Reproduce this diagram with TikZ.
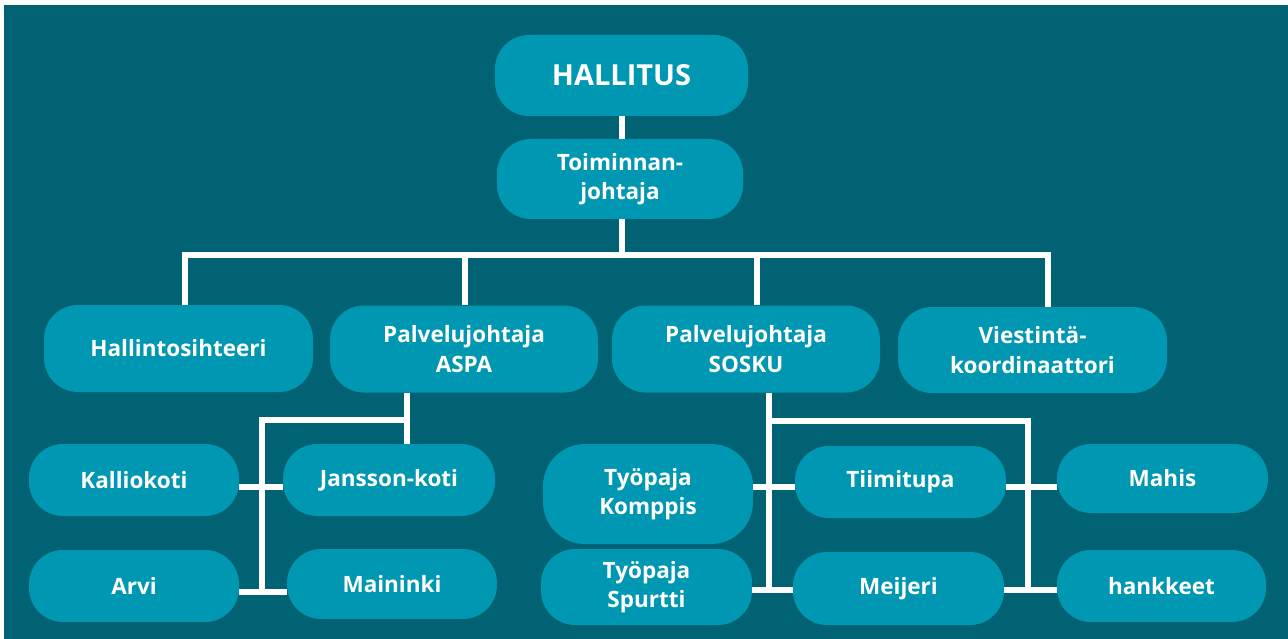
\documentclass[tikz,border=0pt]{standalone}
\usepackage{fontspec}
\setmainfont{Open Sans}
\definecolor{bgc}{RGB}{0,98,114}
\definecolor{boxc}{RGB}{0,151,178}
\begin{document}
\begin{tikzpicture}[x=1pt,y=-1pt,
  box/.style={fill=boxc, rounded corners=34pt, text=white, align=center, inner sep=0pt,
    font=\bfseries\fontsize{22.5}{29.5}\selectfont},
  link/.style={draw=white, line width=6pt, line join=miter}]
\useasboundingbox (0,0) rectangle (1288,639);
\fill[white] (0,0) rectangle (1288,639);
\fill[bgc] (4,5) rectangle (1288,639);

\node[box, minimum width=253pt, minimum height=81pt, font=\bfseries\fontsize{29}{34}\selectfont] (hal) at (621.5,75.5) {HALLITUS};
\node[box, minimum width=246pt, minimum height=80pt] (toi) at (620,179) {Toiminnan-\\johtaja};

\node[box, minimum width=269pt, minimum height=87pt] (hs) at (178.5,348.5) {Hallintosihteeri};
\node[box, minimum width=268pt, minimum height=87pt] (aspa) at (464,349) {Palvelujohtaja\\ASPA};
\node[box, minimum width=268pt, minimum height=87pt] (sosku) at (746,349) {Palvelujohtaja\\SOSKU};
\node[box, minimum width=269pt, minimum height=86pt] (vie) at (1032.5,350) {Viestintä-\\koordinaattori};

\node[box, minimum width=210pt, minimum height=72pt] (kal) at (134,480) {Kalliokoti};
\node[box, minimum width=212pt, minimum height=72pt] (jan) at (389,480) {Jansson-koti};
\node[box, minimum width=210pt, minimum height=72pt] (arvi) at (134,586) {Arvi};
\node[box, minimum width=210pt, minimum height=70pt] (mai) at (392,584) {Maininki};

\node[box, minimum width=210pt, minimum height=100pt, rounded corners=42pt] (kom) at (648,494) {Työpaja\\Komppis};
\node[box, minimum width=211pt, minimum height=76pt] (spu) at (646.5,587) {Työpaja\\Spurtti};
\node[box, minimum width=211pt, minimum height=72pt] (tii) at (900.5,482) {Tiimitupa};
\node[box, minimum width=211pt, minimum height=73pt] (mei) at (898.5,588.5) {Meijeri};
\node[box, minimum width=211pt, minimum height=69pt] (mah) at (1162.5,478.5) {Mahis};
\node[box, minimum width=209pt, minimum height=72pt] (han) at (1161.5,586) {hankkeet};

% top
\coordinate (bus) at (622,255);
\coordinate (d1) at (185,255);
\coordinate (d2) at (465,255);
\coordinate (d3) at (757,255);
\coordinate (d4) at (1048,255);
\draw[link] (bus |- hal.south) -- (bus |- toi.north);
\draw[link] (bus |- toi.south) -- (bus);
\draw[link] (d1 |- hs.north) -- (d1) -- (d4) -- (d4 |- vie.north);
\draw[link] (d2) -- (d2 |- aspa.north);
\draw[link] (d3) -- (d3 |- sosku.north);

% ASPA
\coordinate (a1) at (407,420);
\coordinate (a2) at (262,420);
\coordinate (a3) at (262,592);
\coordinate (s1) at (0,487);
\draw[link] (a1 |- aspa.south) -- (a1 |- jan.north);
\draw[link] (a1) -- (a2) -- (a3);
\draw[link] (kal.east |- s1) -- (jan.west |- s1);
\draw[link] (arvi.east |- a3) -- (mai.west |- a3);

% SOSKU
\coordinate (b1) at (769,421);
\coordinate (b2) at (1028,421);
\coordinate (b3) at (769,590);
\coordinate (b4) at (1028,590);
\draw[link] (b1 |- sosku.south) -- (b3);
\draw[link] (b1) -- (b2) -- (b4);
\draw[link] (kom.east |- s1) -- (tii.west |- s1);
\draw[link] (spu.east |- b3) -- (mei.west |- b3);
\draw[link] (tii.east |- s1) -- (mah.west |- s1);
\draw[link] (mei.east |- b4) -- (han.west |- b4);
\end{tikzpicture}
\end{document}
